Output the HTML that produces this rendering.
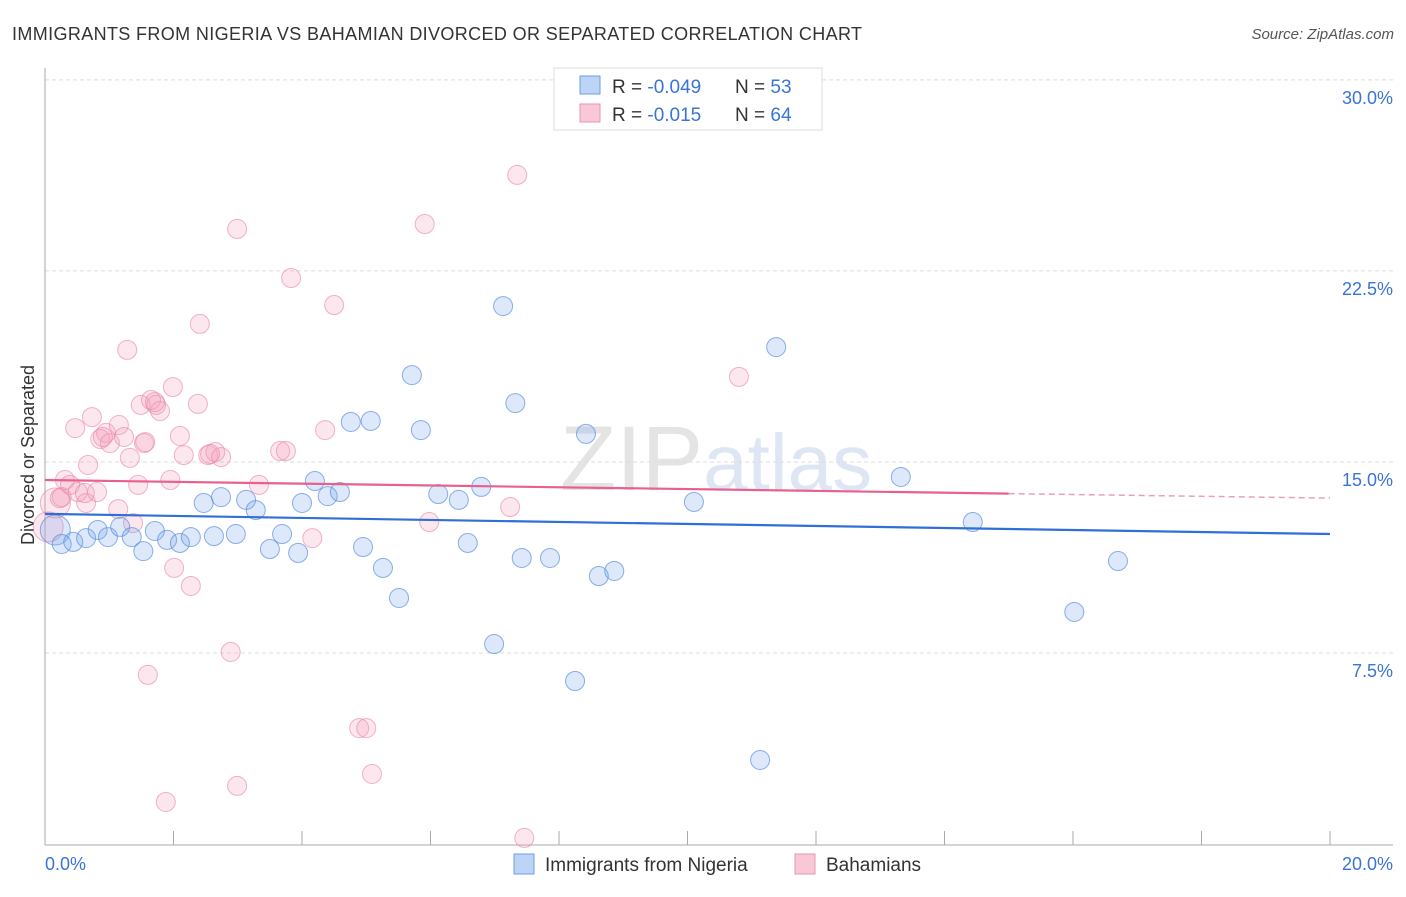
<!DOCTYPE html>
<html><head><meta charset="utf-8"><style>
body{margin:0;background:#fff;font-family:"Liberation Sans",sans-serif}
svg text{font-family:"Liberation Sans",sans-serif}
</style></head><body>
<svg id="c" width="1406" height="892">
<text x="12" y="40" font-size="18" fill="#333" textLength="850">IMMIGRANTS FROM NIGERIA VS BAHAMIAN DIVORCED OR SEPARATED CORRELATION CHART</text>
<text x="1394" y="39" font-size="15" fill="#555" text-anchor="end" font-style="italic">Source: ZipAtlas.com</text>
<text x="560" y="490" font-size="92" fill="#e4e4e4" font-family="Liberation Serif">ZIP<tspan fill="#dfe6f3" font-family="Liberation Sans" font-size="80">atlas</tspan></text>
<g id="grid"></g>
<line x1="45" y1="68" x2="45" y2="845" stroke="#aaa"/>
<line x1="45" y1="845" x2="1393" y2="845" stroke="#aaa"/>
<g id="xt"></g>
<text x="45" y="870" font-size="18" fill="#3a74d4">0.0%</text>
<text x="1393" y="870" font-size="18" fill="#3a74d4" text-anchor="end">20.0%</text>
<text transform="translate(34,455) rotate(-90)" font-size="18" fill="#333" text-anchor="middle">Divorced or Separated</text>
<g id="pts"></g>
<g id="trend"></g>
<g>
<rect x="554" y="68" width="268" height="62" fill="#fff" stroke="#ddd"/>
<rect x="580" y="76" width="20" height="18" fill="#bcd4f5" stroke="#6d9ee6"/>
<rect x="580" y="104" width="20" height="18" fill="#f9c8d7" stroke="#ec93b0"/>
<text x="612" y="93" font-size="19" fill="#333">R = <tspan fill="#3a74d4">-0.049</tspan><tspan x="735">N = </tspan><tspan fill="#3a74d4">53</tspan></text>
<text x="612" y="121" font-size="19" fill="#333">R = <tspan fill="#3a74d4"> -0.015</tspan><tspan x="735">N = </tspan><tspan fill="#3a74d4">64</tspan></text>
</g>
<g>
<rect x="514" y="854" width="20" height="20" fill="#bcd4f5" stroke="#6d9ee6"/>
<text x="545" y="871" font-size="19" fill="#333">Immigrants from Nigeria</text>
<rect x="795" y="854" width="20" height="20" fill="#f9c8d7" stroke="#ec93b0"/>
<text x="826" y="871" font-size="19" fill="#333">Bahamians</text>
</g>
</svg>
<script>
const yTicks=[7.5,15,22.5,30];
const yTickLabels=["7.5%","15.0%","22.5%","30.0%"];
const xTicks=[2,4,6,8,10,12,14,16,18,20];
const blueX=[.16,.26,.44,.64,.82,.98,1.17,1.35,1.53,1.71,1.90,2.10,2.27,2.47,2.63,2.74,2.97,3.13,3.28,3.50,3.69,3.94,4.00,4.20,4.40,4.59,4.76,4.95,5.07,5.26,5.51,5.71,5.85,6.12,6.44,6.58,6.79,6.99,7.13,7.32,7.42,7.86,8.25,8.42,8.62,8.86,10.10,11.13,11.38,13.32,14.44,16.02,16.70];
const blueY=[12.33,11.78,11.86,12.01,12.33,12.05,12.45,12.05,11.50,12.29,11.94,11.82,12.05,13.39,12.09,13.62,12.17,13.51,13.11,11.58,12.17,11.43,13.39,14.25,13.66,13.82,16.57,11.66,16.61,10.84,9.66,18.41,16.25,13.74,13.51,11.82,14.02,7.85,21.12,17.31,11.23,11.23,6.40,16.10,10.52,10.72,13.43,3.30,19.51,14.41,12.64,9.11,11.11];
const pinkX=[.05,.16,.23,.31,.39,.47,.51,.64,.67,.73,.81,.86,.95,1.01,1.14,1.15,1.23,1.28,1.32,1.37,1.45,1.49,1.54,1.60,1.65,1.73,1.79,1.88,1.95,2.01,1.99,2.10,2.16,2.27,2.38,2.41,2.54,2.65,2.74,2.89,2.99,2.99,3.33,3.66,3.75,3.83,4.16,4.36,4.50,4.89,5.00,5.09,5.91,5.98,7.24,7.35,7.46,10.80,.26,.62,1.56,1.71,2.57,.90];
const pinkY=[12.45,13.39,13.58,14.29,14.10,16.33,13.82,13.39,14.88,16.76,13.82,15.90,16.14,15.74,13.15,16.45,15.98,19.40,15.16,12.60,14.10,17.24,15.74,6.64,17.43,17.24,17.00,1.65,14.29,10.84,17.94,16.02,15.27,10.13,17.28,20.42,15.27,15.39,15.19,7.54,24.15,2.28,14.10,15.43,15.43,22.22,12.01,16.25,21.16,4.55,4.55,2.75,24.34,12.64,13.23,26.27,0.24,18.34,13.62,13.78,15.78,17.35,15.31,15.98];
const blueTrend=[12.96,12.17];
const pinkTrend=[14.29,13.58];
const NS="http://www.w3.org/2000/svg";
const sx=v=>45+v*64.25, sy=v=>844-v*25.47;
function mk(t,a,p){const e=document.createElementNS(NS,t);for(const k in a)e.setAttribute(k,a[k]);p.appendChild(e);return e;}
const grid=document.getElementById('grid');
yTicks.forEach((v,i)=>{
 const l=mk('line',{x1:45,x2:1393,y1:sy(v),y2:sy(v),stroke:'#ddd','stroke-dasharray':'4,3'},grid);
 
 
 const t=mk('text',{x:1393,y:sy(v)+24,'font-size':18,fill:'#3a74d4','text-anchor':'end'},grid);
 t.textContent=yTickLabels[i];
 
 
});
const xt=document.getElementById('xt');
xTicks.forEach(v=>{
 const l=mk('line',{x1:sx(v),x2:sx(v),y1:831,y2:845,stroke:'#aaa'},xt);
 
 
});
const pts=document.getElementById('pts');
function draw(X,Y,fill,stroke,name){
 X.forEach((x,i)=>{
  const r=(x<0.2)?15:9.5;
  const c=mk('circle',{cx:sx(x),cy:sy(Y[i]),r:r,fill:fill,stroke:stroke,'stroke-width':1},pts);
  
  
 });
}
draw(pinkX,pinkY,'rgba(243,160,188,0.25)','rgba(232,130,165,0.6)','bahamians-point');
draw(blueX,blueY,'rgba(120,165,235,0.25)','rgba(80,135,220,0.65)','nigeria-point');
const tr=document.getElementById('trend');
const b=mk('line',{x1:sx(0),y1:sy(blueTrend[0]),x2:sx(20),y2:sy(blueTrend[1]),stroke:'#2f6fd6','stroke-width':2.2},tr);


const f=v=>pinkTrend[0]+(pinkTrend[1]-pinkTrend[0])*v/20;
const p1=mk('line',{x1:sx(0),y1:sy(f(0)),x2:sx(15),y2:sy(f(15)),stroke:'#e8608e','stroke-width':2.2},tr);


const p2=mk('line',{x1:sx(15),y1:sy(f(15)),x2:sx(20),y2:sy(f(20)),stroke:'#e8a0b8','stroke-width':1.5,'stroke-dasharray':'6,4'},tr);


</script>
</body></html>
